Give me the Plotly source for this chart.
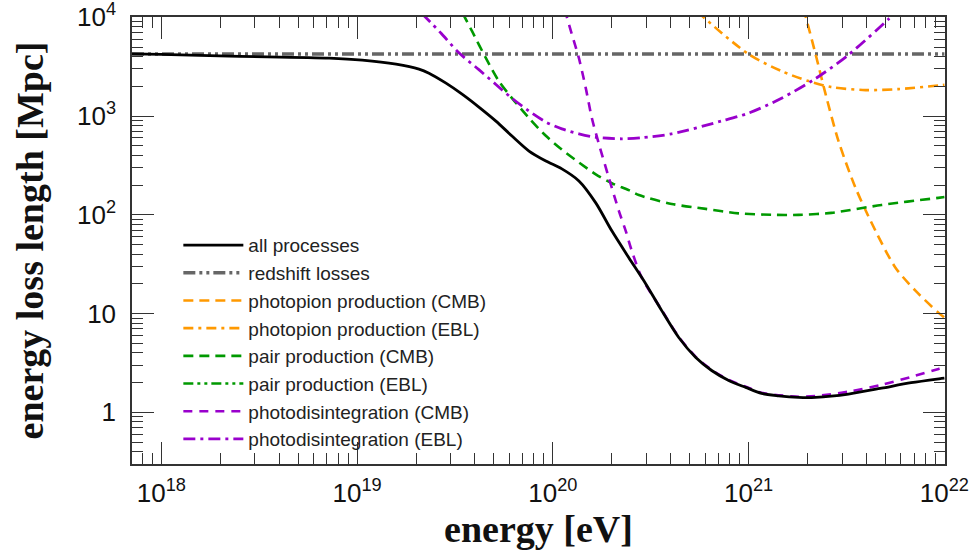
import numpy as np
import plotly.graph_objects as go

# ---- data (log10 of energy in eV, log10 of energy loss length in Mpc) ----
all_logE = [17.85, 18.0, 18.347, 18.857, 19.026, 19.199, 19.316, 19.367, 19.454, 19.536, 19.622,
            19.709, 19.791, 19.878, 19.964, 20.046, 20.133, 20.219, 20.301, 20.388, 20.474,
            20.556, 20.643, 20.730, 20.811, 20.898, 20.985, 21.066, 21.153, 21.255, 21.342,
            21.51, 21.679, 21.83, 21.985, 22.0]
all_logL = [3.63, 3.625, 3.606, 3.586, 3.566, 3.525, 3.475, 3.434, 3.333, 3.222, 3.091,
            2.949, 2.798, 2.646, 2.545, 2.465, 2.343, 2.121, 1.838, 1.566, 1.303,
            1.030, 0.758, 0.556, 0.424, 0.323, 0.253, 0.192, 0.168, 0.152, 0.152,
            0.185, 0.245, 0.30, 0.343, 0.347]

redshift_logE = [17.85, 22.0]
redshift_logL = [3.628, 3.628]

pion_cmb_logE = [21.28, 21.291, 21.342, 21.393, 21.459, 21.546, 21.648, 21.750, 21.852, 21.969, 22.0]
pion_cmb_logL = [4.09, 4.01, 3.626, 3.222, 2.747, 2.273, 1.838, 1.465, 1.232, 1.010, 0.96]

pion_ebl_logE = [20.74, 20.770, 21.0, 21.168, 21.306, 21.423, 21.597, 21.765, 21.985, 22.0]
pion_ebl_logL = [4.06, 4.0, 3.626, 3.455, 3.354, 3.293, 3.263, 3.273, 3.313, 3.316]

pair_cmb_logE = [19.54, 19.55, 19.587, 19.658, 19.724, 19.791, 19.878, 19.964, 20.046, 20.133,
                 20.219, 20.301, 20.388, 20.439, 20.607, 20.781, 20.949, 21.117, 21.255,
                 21.423, 21.679, 21.969, 22.0]
pair_cmb_logL = [4.04, 4.0, 3.859, 3.586, 3.354, 3.182, 2.98, 2.80, 2.66, 2.53,
                 2.41, 2.32, 2.25, 2.20, 2.11, 2.06, 2.015, 2.0, 2.0,
                 2.02, 2.10, 2.172, 2.18]

# pair production on the EBL lies off scale in the reference (legend entry only)
pair_ebl_logE = [None]
pair_ebl_logL = [None]

pd_cmb_logE = [20.06, 20.097, 20.133, 20.168, 20.199, 20.235, 20.286, 20.337, 20.372, 20.403,
               20.454, 20.556, 20.643, 20.730, 20.811, 20.898, 20.985, 21.066, 21.153, 21.255,
               21.342, 21.51, 21.68, 21.85, 21.97, 22.0]
pd_cmb_logL = [4.08, 3.828, 3.586, 3.283, 2.98, 2.717, 2.374, 2.040, 1.838, 1.636,
               1.364, 1.036, 0.764, 0.562, 0.430, 0.329, 0.259, 0.198, 0.174, 0.158,
               0.165, 0.21, 0.28, 0.37, 0.44, 0.46]

pd_ebl_logE = [19.33, 19.429, 19.52, 19.622, 19.709, 19.791, 19.878, 19.964, 20.046, 20.133,
               20.219, 20.352, 20.45, 20.607, 20.862, 21.0, 21.168, 21.342, 21.51, 21.714, 21.74]
pd_ebl_logL = [4.04, 3.838, 3.64, 3.47, 3.32, 3.18, 3.05, 2.94, 2.87, 2.82,
               2.785, 2.77, 2.78, 2.82, 2.95, 3.03, 3.18, 3.38, 3.62, 3.98, 4.03]

x_tick_vals = [1e18, 1e19, 1e20, 1e21, 1e22]
x_tick_text = ["10<sup>18</sup>", "10<sup>19</sup>", "10<sup>20</sup>", "10<sup>21</sup>", "10<sup>22</sup>"]
y_tick_vals = [1.0, 10.0, 100.0, 1000.0, 10000.0]
y_tick_text = ["1", "10", "10<sup>2</sup>", "10<sup>3</sup>", "10<sup>4</sup>"]

series = [
    ("redshift losses", redshift_logE, redshift_logL, "#666666", "12px,4px,3px,4px,3px,4px", 3.5, 2),
    ("photopion production (CMB)", pion_cmb_logE, pion_cmb_logL, "#FF9900", "10px,6px", 2.6, 3),
    ("photopion production (EBL)", pion_ebl_logE, pion_ebl_logL, "#FF9900", "10px,5px,3px,5px", 2.6, 4),
    ("pair production (CMB)", pair_cmb_logE, pair_cmb_logL, "#009900", "10px,6px", 2.6, 5),
    ("pair production (EBL)", pair_ebl_logE, pair_ebl_logL, "#009900", "10px,4px,3px,4px,3px,4px", 2.6, 6),
    ("photodisintegration (CMB)", pd_cmb_logE, pd_cmb_logL, "#9900CC", "9px,7px", 2.6, 7),
    ("photodisintegration (EBL)", pd_ebl_logE, pd_ebl_logL, "#9900CC", "12px,5px,3px,5px", 2.8, 8),
]


def to_lin(vals):
    return [None if v is None else float(10.0 ** v) for v in vals]


fig = go.Figure()
for name, lx, ly, col, dash, w, rank in series:
    fig.add_trace(go.Scatter(
        x=to_lin(lx), y=to_lin(ly),
        mode="lines", name=name, legendrank=rank, showlegend=True,
        line=dict(color=col, width=w, dash=dash, shape="spline", smoothing=0.8),
        cliponaxis=True))

fig.add_trace(go.Scatter(
    x=to_lin(all_logE), y=to_lin(all_logL),
    mode="lines", name="all processes", legendrank=1,
    line=dict(color="black", width=2.8, shape="spline", smoothing=0.8)))

# minor tick positions (2..9 per decade)
x_minor = [m * 10.0 ** k for k in range(17, 22) for m in range(2, 10) if 10 ** 17.85 <= m * 10.0 ** k <= 1e22]
y_minor = [m * 10.0 ** k for k in range(-1, 4) for m in range(2, 10) if 0.3 <= m * 10.0 ** k <= 1e4]

axis_common = dict(
    showline=True, linecolor="#333333", linewidth=1.5, mirror="ticks",
    ticks="inside", ticklen=22, tickwidth=1.2, tickcolor="#333333",
    showgrid=False, zeroline=False, automargin=False, ticklabeloverflow="allow",
    tickfont=dict(family="Liberation Sans, Arial, sans-serif", size=26, color="#111111"),
)

fig.update_xaxes(
    type="log", range=[17.85, 22.003],
    tickmode="array", tickvals=x_tick_vals, ticktext=x_tick_text,
    minor=dict(ticks="inside", ticklen=11, tickwidth=1, tickcolor="#333333",
               tickmode="array", tickvals=x_minor, showgrid=False),
    title=dict(text="<b>energy [eV]</b>", standoff=0,
               font=dict(family="Liberation Serif, Times New Roman, serif", size=38, color="#111111")),
    ticklabelstandoff=5,
    **axis_common)

fig.update_yaxes(
    type="log", range=[float(np.log10(0.3)), 4.003],
    tickmode="array", tickvals=y_tick_vals, ticktext=y_tick_text,
    minor=dict(ticks="inside", ticklen=11, tickwidth=1, tickcolor="#333333",
               tickmode="array", tickvals=y_minor, showgrid=False),
    title=dict(text="<b>energy loss length [Mpc]</b>", standoff=22,
               font=dict(family="Liberation Serif, Times New Roman, serif", size=38, color="#111111")),
    ticklabelstandoff=9,
    **axis_common)

fig.update_layout(
    width=973, height=552,
    margin=dict(l=132, r=28, t=17, b=88),
    paper_bgcolor="white", plot_bgcolor="white",
    showlegend=True,
    legend=dict(x=0.057, y=0.532, xanchor="left", yanchor="top",
                bgcolor="rgba(0,0,0,0)", borderwidth=0,
                font=dict(family="Liberation Sans, Arial, sans-serif", size=19, color="#222222"),
                tracegroupgap=0, itemwidth=60),
)

fig.write_html("out.html", config={"displayModeBar": False},
               post_script="document.body.style.margin='0';")
